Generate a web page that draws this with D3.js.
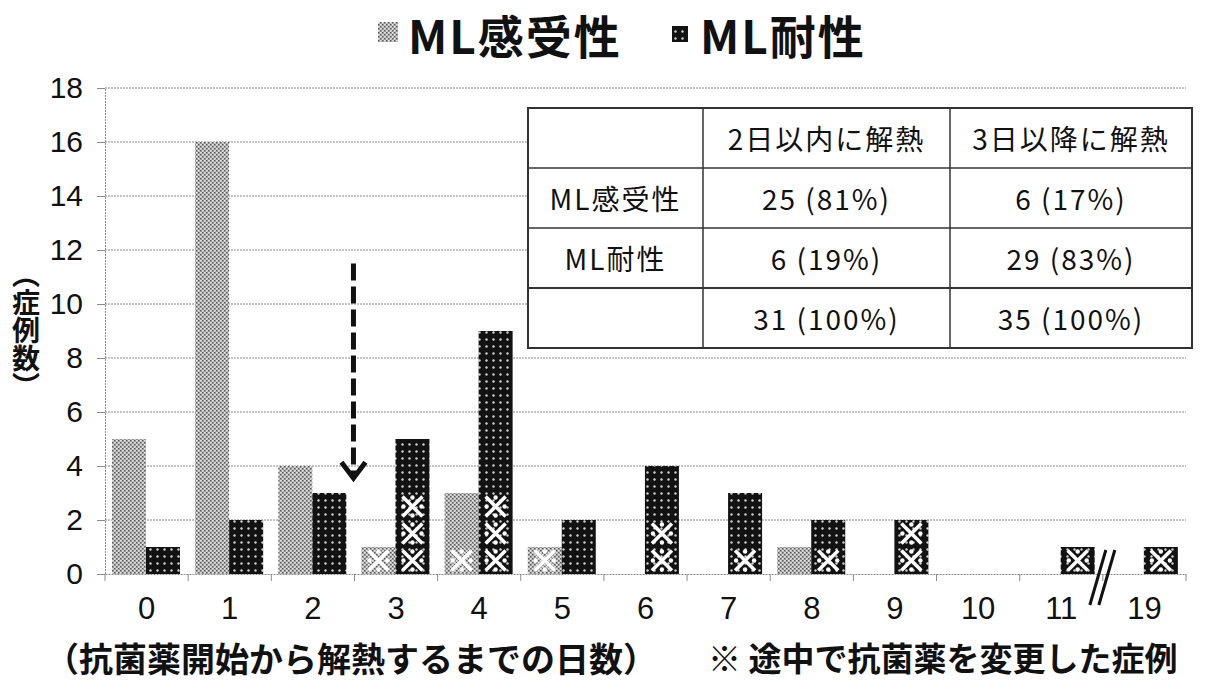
<!DOCTYPE html>
<html><head><meta charset="utf-8">
<script src="https://cdn.jsdelivr.net/npm/d3@7"></script>
<style>
body{margin:0;background:#fff;}
svg{display:block;font-family:"Liberation Sans","Noto Sans CJK JP",sans-serif;}
</style>
</head><body><svg id="c" width="1214" height="682"></svg>
<script>
// ---- data ----
const categories = ["0","1","2","3","4","5","6","7","8","9","10","11","19"];
const seriesNames = ["ML感受性","ML耐性"];
const susceptible = [5,16,4,1,3,1,0,0,1,0,0,0,0];
const resistant   = [1,2,3,5,9,2,4,3,2,2,0,1,1];
const changedSusceptible = [0,0,0,1,1,1,0,0,0,0,0,0,0];
const changedResistant   = [0,0,0,3,3,0,2,1,1,2,0,1,1];
const yTicks = [0,2,4,6,8,10,12,14,16,18];
const tableHeader = ["","2日以内に解熱","3日以降に解熱"];
const tableRowLabels = ["ML感受性","ML耐性",""];
const tableWithin2 = ["25 (81%)","6 (19%)","31 (100%)"];
const tableAfter3  = ["6 (17%)","29 (83%)","35 (100%)"];
const arrowFrom = 11.5, arrowTo = 3.55;
const xTitle = "（抗菌薬開始から解熱するまでの日数）";
const noteText = "※ 途中で抗菌薬を変更した症例";
const yTitle = "（症例数）";

// ---- layout ----
const svg = d3.select("#c");
const X0 = 105, X1 = 1186, Y0 = 574, Y1 = 88;
const numFont = "Liberation Sans Narrow, Liberation Sans, sans-serif";
const x = d3.scaleBand().domain(categories).range([X0, X1]).padding(0);
const xs = d3.scaleBand().domain(seriesNames).range([7, 75]).padding(0);
const y = d3.scaleLinear().domain([0,18]).range([Y0, Y1]);

const defs = svg.append("defs");
const pg = defs.append("pattern").attr("id","pg").attr("width",4).attr("height",4).attr("patternUnits","userSpaceOnUse");
pg.append("rect").attr("width",4).attr("height",4).attr("fill","#a0a0a0");
pg.append("rect").attr("x",0).attr("y",0).attr("width",1.6).attr("height",1.6).attr("fill","#e6e6e6");
pg.append("rect").attr("x",2).attr("y",2).attr("width",1.6).attr("height",1.6).attr("fill","#e6e6e6");
pg.append("rect").attr("x",2).attr("y",0).attr("width",1.2).attr("height",1.2).attr("fill","#5a5a5a");
pg.append("rect").attr("x",0).attr("y",2).attr("width",1.2).attr("height",1.2).attr("fill","#5a5a5a");
const pb = defs.append("pattern").attr("id","pb").attr("width",7).attr("height",7).attr("patternUnits","userSpaceOnUse");
pb.append("rect").attr("width",7).attr("height",7).attr("fill","#121212");
pb.append("circle").attr("cx",3.5).attr("cy",3.5).attr("r",1.2).attr("fill","#d0d0d0");
const fills = {"ML感受性":"url(#pg)","ML耐性":"url(#pb)"};

// gridlines
svg.append("g").selectAll("line").data(yTicks.filter(d=>d>0)).join("line")
  .attr("x1",X0).attr("x2",X1).attr("y1",d=>y(d)).attr("y2",d=>y(d))
  .attr("stroke","#8a8a8a").attr("stroke-width",1).attr("stroke-dasharray","2,1");

// y axis
const ya = svg.append("g").attr("transform",`translate(${X0},0)`)
  .call(d3.axisLeft(y).tickValues(yTicks).tickSize(8).tickPadding(14));
ya.select(".domain").attr("stroke","#8a8a8a").attr("stroke-dasharray","2,1");
ya.selectAll(".tick line").attr("stroke","#8a8a8a");
ya.selectAll(".tick text").attr("font-size",30).attr("fill","#111").attr("font-family",numFont);

// x axis
const xa = svg.append("g").attr("transform",`translate(0,${Y0})`)
  .call(d3.axisBottom(x).tickSize(0).tickPadding(23));
xa.select(".domain").attr("stroke","#8a8a8a").attr("stroke-dasharray","2,1");
xa.selectAll(".tick text").attr("font-size",31).attr("fill","#111").attr("font-family",numFont);
const bounds = categories.map(c=>x(c)).concat([X1]);
svg.append("g").selectAll("line").data(bounds).join("line")
  .attr("x1",d=>d).attr("x2",d=>d).attr("y1",Y0).attr("y2",Y0+7)
  .attr("stroke","#8a8a8a").attr("stroke-width",1);

// bars
const rows = [];
categories.forEach((c,i)=>{
  rows.push({c, s:"ML感受性", v:susceptible[i], n:changedSusceptible[i]});
  rows.push({c, s:"ML耐性", v:resistant[i], n:changedResistant[i]});
});
svg.append("g").selectAll("rect").data(rows.filter(d=>d.v>0)).join("rect")
  .attr("x",d=>x(d.c)+xs(d.s)).attr("width",xs.bandwidth())
  .attr("y",d=>y(d.v)).attr("height",d=>Y0-y(d.v))
  .attr("fill",d=>fills[d.s]);

// ※ marks
const marks = [];
rows.forEach(d=>{ for(let k=0;k<d.n;k++) marks.push({cx:x(d.c)+xs(d.s)+xs.bandwidth()/2, v:k+0.5}); });
const mg = svg.append("g");
marks.forEach(m=>{
  const cx=m.cx, cy=y(m.v), s=10, o=9;
  const g = mg.append("g");
  g.append("path").attr("d",`M${cx-s},${cy-s}L${cx+s},${cy+s}M${cx+s},${cy-s}L${cx-s},${cy+s}`)
    .attr("stroke","#fff").attr("stroke-width",3.6).attr("fill","none");
  [[0,-o],[0,o],[-o,0],[o,0]].forEach(p=>g.append("circle").attr("cx",cx+p[0]).attr("cy",cy+p[1]).attr("r",2.2).attr("fill","#fff"));
});

// dashed arrow
const ax = x("3") - 1;
svg.append("line").attr("x1",ax).attr("x2",ax).attr("y1",y(arrowFrom)).attr("y2",y(arrowTo)-4)
  .attr("stroke","#111").attr("stroke-width",5).attr("stroke-dasharray","17,6");
svg.append("path").attr("d",`M${ax-12},${y(arrowTo)-16}L${ax},${y(arrowTo)}L${ax+12},${y(arrowTo)-16}`)
  .attr("stroke","#111").attr("stroke-width",5).attr("fill","none").attr("stroke-linejoin","miter");

// axis break
const bx = x("19");
svg.append("g").selectAll("line").data([-5,4]).join("line")
  .attr("x1",d=>bx+d-8).attr("y1",Y0+31).attr("x2",d=>bx+d+8).attr("y2",Y0-24)
  .attr("stroke","#111").attr("stroke-width",3);

// table
const tx = [528,703,950,1192], ty = [108,168,228,288,348];
const tg = svg.append("g");
tg.append("rect").attr("x",tx[0]).attr("y",ty[0]).attr("width",tx[3]-tx[0]).attr("height",ty[4]-ty[0])
  .attr("fill","#fff").attr("stroke","#333").attr("stroke-width",2);
ty.slice(1,4).forEach(v=>tg.append("line").attr("x1",tx[0]).attr("x2",tx[3]).attr("y1",v).attr("y2",v).attr("stroke","#333").attr("stroke-width",v===288?2:1.5));
tx.slice(1,3).forEach(v=>tg.append("line").attr("x1",v).attr("x2",v).attr("y1",ty[0]).attr("y2",ty[4]).attr("stroke","#333").attr("stroke-width",1.5));
const cells = [];
tableHeader.forEach((t,j)=>cells.push({t, r:0, c:j}));
tableRowLabels.forEach((t,i)=>{
  cells.push({t, r:i+1, c:0});
  cells.push({t:tableWithin2[i], r:i+1, c:1});
  cells.push({t:tableAfter3[i], r:i+1, c:2});
});
tg.selectAll("text").data(cells.filter(d=>d.t)).join("text")
  .attr("x",d=>(tx[d.c]+tx[d.c+1])/2).attr("y",d=>(ty[d.r]+ty[d.r+1])/2)
  .attr("text-anchor","middle").attr("dominant-baseline","central")
  .attr("font-family","Liberation Sans Narrow, Noto Sans CJK JP, sans-serif")
  .attr("font-size",28).attr("letter-spacing",2).attr("fill","#111").text(d=>d.t);

// legend
const lg = svg.append("g").attr("font-family","Noto Sans CJK JP, sans-serif").attr("font-weight",700).attr("font-size",46);
lg.append("rect").attr("x",378).attr("y",22).attr("width",20).attr("height",20).attr("fill",fills["ML感受性"]);
lg.append("text").attr("x",408).attr("y",34).attr("dominant-baseline","central").attr("letter-spacing",2).attr("fill","#111").text(seriesNames[0]);
lg.append("rect").attr("x",672).attr("y",26).attr("width",16).attr("height",16).attr("fill",fills["ML耐性"]);
lg.append("text").attr("x",700).attr("y",34).attr("dominant-baseline","central").attr("letter-spacing",2).attr("fill","#111").text(seriesNames[1]);

// y title (vertical)
svg.append("text").attr("x",26).attr("y",330).attr("text-anchor","middle")
  .style("writing-mode","vertical-rl").attr("font-family","Noto Sans CJK JP, sans-serif")
  .attr("font-weight",700).attr("font-size",28).attr("fill","#111").text(yTitle);

// bottom texts
svg.append("text").attr("x",45).attr("y",657).attr("dominant-baseline","central")
  .attr("font-family","Noto Sans CJK JP, sans-serif").attr("font-weight",700).attr("font-size",34).attr("fill","#111").text(xTitle);
svg.append("text").attr("x",708).attr("y",657).attr("dominant-baseline","central")
  .attr("font-family","Noto Sans CJK JP, sans-serif").attr("font-weight",700).attr("font-size",33).attr("fill","#111").text(noteText);
</script>
</body></html>
